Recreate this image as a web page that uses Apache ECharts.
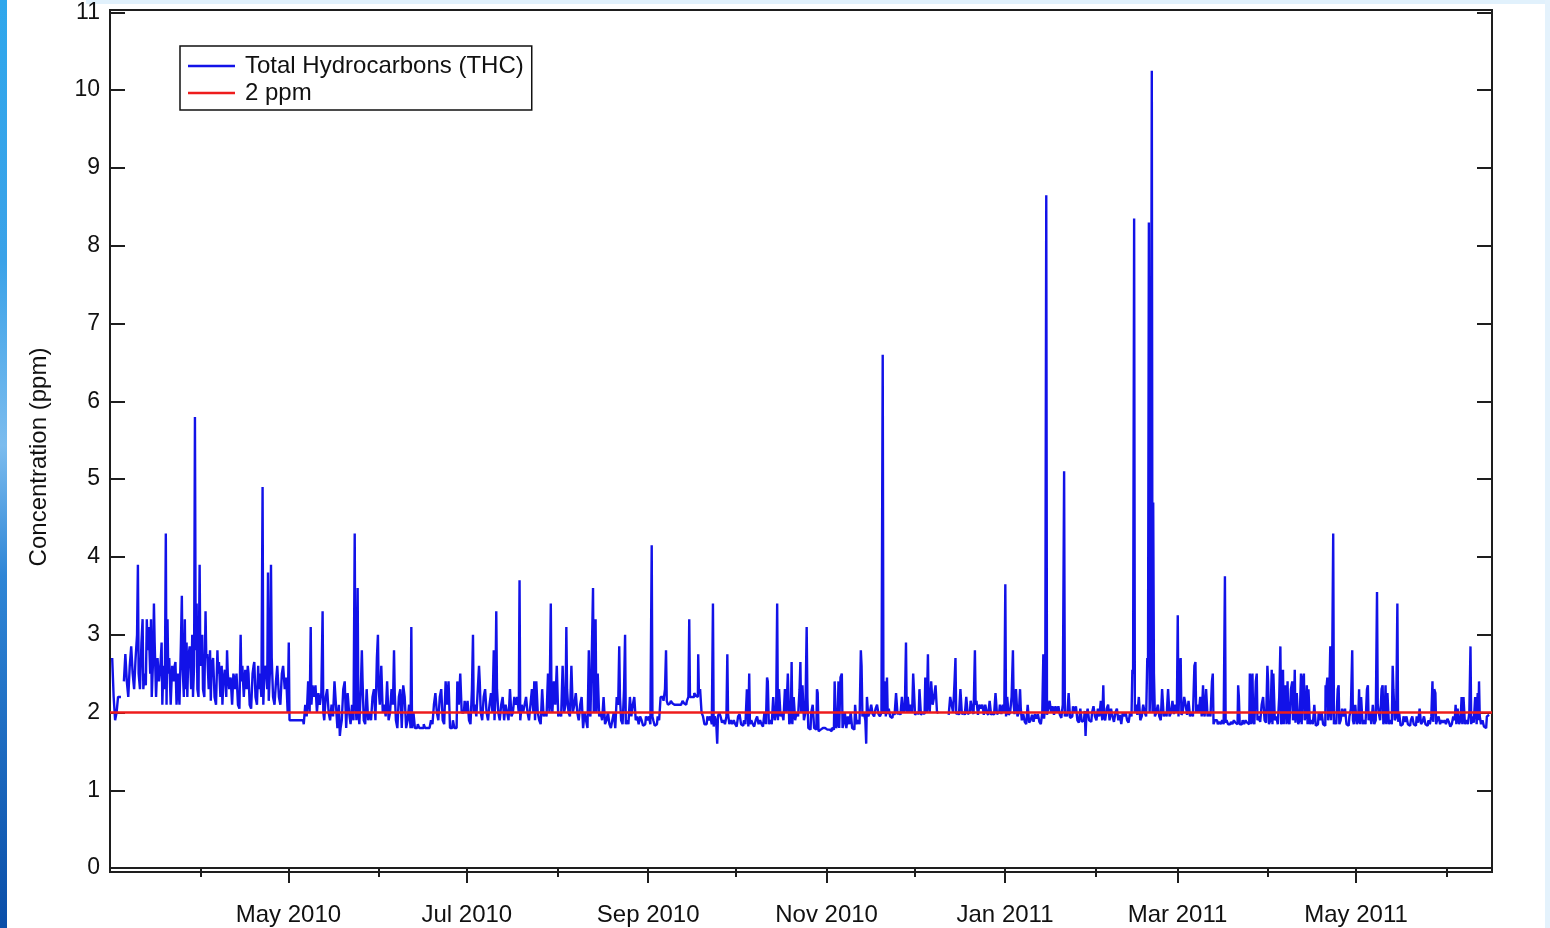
<!DOCTYPE html>
<html>
<head>
<meta charset="utf-8">
<title>Total Hydrocarbons (THC)</title>
<script src="https://cdn.jsdelivr.net/npm/echarts@6/dist/echarts.min.js"></script>
<style>
  html, body { margin: 0; padding: 0; background: #fff; }
  #chart { width: 1550px; height: 928px; }
</style>
</head>
<body>
<div id="chart"></div>
<script>
// readings (ppm): one value per day of the month at 00:00, null = no data
var mar2010 = [null, 2.7, 1.9, 2.2, null, 2.4, 2.4, 2.6, 2.5, 2.7, 2.5, 2.9, 2.5, 2.8, 2.5, 2.7, 2.2, 2.4, 2.1, 2.3, 2.5, 2.1, 2.4, 2.1, 2.1, 2.6, 2.3, 2.7, 2.3, 2.6, 2.3];
var apr2010 = [2.6, 2.3, 2.7, 2.3, 2.6, 2.2, 2.5, 2.2, 2.4, 2.2, 2.3, 2.1, 2.3, 2.1, 2.4, 2.2, 2.3, 2.1, 2.5, 2.2, 2.3, 2.2, 2.5, 2.3, 2.6, 2.2, 2.4, 2.2, 2.5, 2.3];
var may2010 = [2.0, 1.9, 1.9, 1.9, 1.9, 1.9, 2.1, 2.4, 2.1, 2.2, 2.0, 2.1, 2.0, 2.2, 2.0, 2.1, 2.4, 1.8, 1.8, 2.3, 1.8, 2.0, 2.1, 2.2, 2.0, 2.3, 1.9, 2.3, 2.0, 2.2, 1.9];
var jun2010 = [2.3, 2.6, 2.1, 2.4, 2.0, 2.1, 1.9, 2.2, 1.8, 2.2, 1.9, 1.8, 2.0, 1.8, 1.8, 1.8, 1.8, 1.8, 1.9, 2.1, 2.0, 2.2, 1.9, 2.4, 2.4, 1.8, 1.8, 2.4, 2.5, 2.0];
var jul2010 = [2.0, 1.9, 2.3, 2.1, 2.3, 2.0, 2.2, 2.0, 2.1, 2.0, 2.2, 2.0, 2.1, 1.9, 2.0, 2.3, 2.0, 2.1, 2.0, 2.1, 2.1, 2.0, 2.1, 2.0, 2.4, 1.9, 2.3, 2.0, 2.5, 2.1, 2.4];
var aug2010 = [2.6, 2.0, 2.6, 2.1, 2.0, 2.6, 2.1, 2.0, 2.1, 1.8, 1.9, 2.0, 2.8, 2.2, 2.5, 2.0, 2.2, 1.9, 1.85, 1.9, 1.8, 2.1, 1.9, 2.3, 1.9, 2.2, 2.1, 1.9, 1.85, 1.9, 1.85];
var sep2010 = [1.9, 1.85, 1.9, 1.85, 1.9, 2.2, 2.3, 2.1, 2.15, 2.1, 2.12, 2.1, 2.15, 2.1, 2.2, 2.2, 2.25, 2.2, 2.3, 1.95, 1.85, 1.9, 1.85, 1.95, 1.95, 1.95, 1.9, 1.95, 1.85, 1.85];
var oct2010 = [1.85, 1.95, 1.85, 1.9, 2.3, 1.85, 1.85, 1.9, 1.85, 1.85, 2.0, 2.4, 1.9, 2.2, 2.0, 2.3, 2.0, 2.3, 2.5, 1.9, 2.2, 2.0, 2.3, 2.35, 2.0, 1.8, 2.0, 1.8, 2.25, 1.78, 1.78];
var nov2010 = [1.78, 1.78, 1.8, 2.4, 1.85, 2.45, 1.85, 1.8, 1.85, 1.8, 2.1, 1.9, 2.6, 2.0, 2.2, 2.0, 1.98, 2.05, 1.98, 2.0, 2.4, 1.98, 1.95, 2.0, 2.25, 2.0, 2.2, 2.05, 2.2, 2.1];
var dec2010 = [2.5, 2.0, 2.3, 2.0, 2.45, 2.1, 2.4, 2.2, 2.0, null, null, null, 1.97, 2.1, 2.4, 2.0, 2.3, 2.0, 2.2, 2.0, 2.05, 2.1, 1.97, 2.05, 1.97, 2.0, 2.15, 2.0, 2.25, 2.0, 1.98];
var jan2011 = [2.0, 2.2, 2.0, 2.1, 2.3, 2.0, 1.9, 1.88, 2.1, 1.9, 1.88, 1.92, 1.88, 2.0, 2.1, 2.05, 2.0, 1.97, 2.0, 1.97, 2.1, 2.0, 2.25, 1.95, 2.0, 1.9, 2.05, 1.9, 1.95, 1.9, 2.0];
var feb2011 = [1.95, 2.05, 2.15, 1.95, 2.05, 1.9, 1.95, 2.0, 1.9, 1.85, 1.95, 1.9, 2.0, 2.5, 2.1, 2.2, 1.95, 2.0, 2.6, 2.3, 2.5, 2.0, 1.95, 2.3, 2.0, 2.3, 2.0, 1.98];
var mar2011 = [2.0, 2.6, 2.0, 2.1, 2.15, 2.0, 2.6, 2.1, 2.2, 2.0, 2.3, 2.0, 2.4, 1.9, 1.85, 1.85, 1.85, 1.9, 1.85, 1.85, 1.87, 2.2, 1.85, 1.85, 1.87, 2.4, 1.9, 2.4, 1.95, 2.1, 1.9];
var apr2011 = [2.4, 1.9, 2.5, 1.95, 2.2, 1.9, 2.35, 1.9, 2.3, 1.95, 2.25, 1.9, 2.4, 1.95, 2.3, 1.9, 2.1, 1.85, 1.9, 1.85, 2.3, 2.0, 2.1, 1.9, 2.3, 1.9, 1.95, 1.85, 1.95, 1.9];
var may2011 = [2.1, 1.9, 2.2, 1.9, 2.3, 2.0, 2.1, 1.9, 2.0, 2.3, 1.9, 2.25, 1.9, 2.3, 1.95, 2.0, 1.85, 1.88, 1.85, 1.9, 1.85, 1.95, 2.05, 1.88, 1.85, 1.9, 1.95, 2.3, 1.9, 1.85, 1.87];
var jun2011 = [1.85, 1.88, 1.85, 1.9, 2.05, 1.9, 2.2, 1.9, 2.0, 1.95, 2.2, 1.9, 1.85, 1.82, 1.95];

// readings at 12:00 of the same days
var mar2010Noon = [null, 2.2, 2.0, 2.2, null, 2.75, 2.2, 2.85, 2.3, 3.0, 2.3, 2.3, 2.35, 3.1, 2.2, 2.9, 2.7, 2.6, 2.6, 2.1, 2.7, 2.6, 2.65, 2.5, 2.9, 2.2, 2.2, 2.85, 2.2, 2.8, 2.2];
var apr2010Noon = [2.8, 2.2, 2.75, 2.15, 2.7, 2.1, 2.65, 2.1, 2.55, 2.5, 2.45, 2.45, 2.5, 2.05, 2.6, 2.55, 2.5, 2.05, 2.65, 2.1, 2.5, 2.1, 2.6, 2.15, 2.7, 2.1, 2.6, 2.1, 2.6, 2.45];
var may2010Noon = [1.9, 1.9, 1.9, 1.9, 1.9, 1.85, 1.95, 2.0, 2.35, 2.35, 2.25, 2.25, 1.9, 2.3, 1.9, 1.95, 2.1, 2.1, 1.9, 2.4, 2.25, 1.85, 1.9, 1.9, 1.85, 2.4, 1.85, 1.9, 1.9, 2.3, 2.7];
var jun2010Noon = [2.1, 2.0, 1.95, 1.9, 2.3, 2.25, 1.8, 2.3, 2.35, 1.8, 2.1, 1.8, 1.8, 1.85, 1.8, 1.85, 1.8, 1.8, 1.85, 2.25, 1.9, 2.3, 1.85, 2.1, 1.8, 1.9, 1.8, 2.1, 2.0, 2.15];
var jul2010Noon = [2.15, 1.85, 2.0, 1.95, 2.4, 1.9, 2.3, 1.9, 2.25, 1.9, 2.3, 1.9, 2.2, 2.1, 1.9, 1.95, 2.2, 2.2, 1.9, 2.0, 2.2, 1.9, 2.3, 1.9, 2.0, 1.85, 1.95, 1.95, 2.0, 2.0, 2.1];
var aug2010Noon = [1.95, 1.95, 2.0, 2.3, 1.95, 2.0, 2.25, 1.9, 2.2, 2.0, 1.8, 1.95, 2.0, 2.0, 1.95, 1.9, 1.85, 2.0, 1.8, 2.0, 2.2, 2.2, 1.85, 1.85, 1.85, 1.95, 2.2, 1.95, 1.95, 1.83, 1.95];
var sep2010Noon = [1.95, 1.95, 1.83, 1.95, 2.2, 2.15, 2.15, 2.12, 2.12, 2.1, 2.1, 2.12, 2.12, 2.15, 2.2, 2.2, 2.22, 2.25, 2.0, 1.85, 1.95, 1.95, 1.82, 1.88, 2.0, 1.87, 1.85, 1.98, 1.9, 1.9];
var oct2010Noon = [1.82, 1.98, 1.83, 1.85, 1.82, 1.9, 1.82, 1.95, 1.9, 1.82, 1.85, 1.85, 1.85, 1.9, 1.9, 1.95, 1.9, 2.0, 1.85, 1.85, 1.9, 1.95, 2.0, 1.9, 2.2, 1.78, 2.1, 1.78, 1.76, 1.8, 1.8];
var nov2010Noon = [1.8, 1.76, 1.78, 1.8, 1.8, 1.8, 2.0, 1.95, 2.0, 1.78, 1.85, 1.85, 1.95, 1.9, 1.95, 2.1, 1.95, 2.1, 1.95, 1.98, 1.95, 2.05, 1.93, 1.97, 1.98, 1.97, 2.0, 2.0, 2.0, 2.0];
var dec2010Noon = [1.97, 1.98, 1.97, 1.98, 2.0, 2.0, 2.1, 2.35, null, null, null, null, 2.2, 2.0, 1.98, 1.97, 1.98, 1.97, 1.98, 2.15, 1.98, 2.15, 2.1, 2.1, 2.1, 1.97, 1.97, 1.97, 1.98, 2.1, 2.1];
var jan2011Noon = [1.95, 1.97, 2.2, 1.98, 1.95, 2.05, 1.98, 1.85, 1.87, 1.97, 1.98, 1.98, 1.85, 1.92, 1.97, 2.15, 2.08, 2.08, 2.08, 1.93, 1.95, 1.95, 1.93, 2.08, 2.08, 1.87, 1.88, 2.02, 2.05, 1.88, 2.08];
var feb2011Noon = [1.9, 1.95, 1.9, 1.9, 2.1, 2.05, 1.88, 2.05, 1.97, 2.0, 2.0, 1.87, 1.95, 2.0, 1.97, 1.9, 2.1, 1.95, 2.0, 2.0, 1.95, 2.1, 1.9, 1.95, 1.95, 1.95, 2.15, 2.1];
var mar2011Noon = [1.95, 1.97, 2.2, 1.97, 1.95, 1.95, 2.0, 2.0, 1.95, 1.95, 1.95, 1.95, 1.85, 1.9, 1.88, 1.9, 1.87, 1.85, 1.88, 1.9, 1.85, 1.85, 1.9, 1.9, 1.85, 1.85, 1.85, 1.9, 1.88, 2.2, 1.87];
var apr2011Noon = [1.85, 1.85, 1.9, 1.85, 1.85, 1.85, 1.85, 1.85, 1.9, 1.87, 1.85, 1.85, 1.9, 1.85, 1.85, 1.85, 1.83, 2.0, 2.0, 1.83, 1.9, 1.9, 1.85, 1.85, 1.85, 2.05, 2.05, 1.83, 2.05, 1.85];
var may2011Noon = [1.85, 1.85, 1.85, 1.85, 1.9, 1.85, 1.85, 2.1, 1.9, 1.85, 1.85, 1.85, 1.85, 1.9, 1.88, 1.83, 1.95, 1.95, 1.83, 1.95, 1.83, 1.87, 1.85, 1.95, 1.83, 1.85, 1.88, 1.85, 1.95, 1.9, 1.9];
var jun2011Noon = [1.92, 1.82, 1.95, 1.85, 1.85, 1.85, 1.85, 1.85, 1.85, 1.87, 1.85, 1.95, 1.9, 1.8, 1.97];

// short excursions between the regular readings [time, ppm]
var spikes = [
  ['2010-03-10 14:00', 3.9], ['2010-03-12 07:00', 3.2], ['2010-03-13 16:00', 3.2], ['2010-03-15 01:00', 3.2],
  ['2010-03-16 01:00', 3.4], ['2010-03-18 19:00', 2.9], ['2010-03-20 04:00', 4.3], ['2010-03-20 20:00', 3.2],
  ['2010-03-23 06:00', 2.6], ['2010-03-25 15:00', 3.5], ['2010-03-26 16:00', 3.2], ['2010-03-27 09:00', 2.9],
  ['2010-03-29 06:00', 3.0], ['2010-03-30 02:00', 5.8], ['2010-03-30 18:00', 3.4], ['2010-03-31 19:00', 3.9],
  ['2010-04-01 14:00', 3.0], ['2010-04-02 20:00', 3.3], ['2010-04-04 10:00', 2.8], ['2010-04-06 23:00', 2.8],
  ['2010-04-08 09:00', 2.6], ['2010-04-10 01:00', 2.8], ['2010-04-12 09:00', 2.5], ['2010-04-14 20:00', 3.0],
  ['2010-04-17 05:00', 2.6], ['2010-04-19 04:00', 2.6], ['2010-04-20 20:00', 2.6], ['2010-04-22 08:00', 4.9],
  ['2010-04-24 01:00', 3.8], ['2010-04-25 02:00', 3.9], ['2010-04-27 09:00', 2.6], ['2010-04-29 09:00', 2.6],
  ['2010-05-01 06:00', 2.9], ['2010-05-08 18:00', 3.1], ['2010-05-12 21:00', 3.3], ['2010-05-18 16:00', 1.7],
  ['2010-05-23 20:00', 4.3], ['2010-05-24 20:00', 3.6], ['2010-05-26 05:00', 2.8], ['2010-05-31 17:00', 3.0],
  ['2010-06-06 05:00', 2.8], ['2010-06-12 01:00', 3.1], ['2010-07-03 05:00', 3.0], ['2010-07-05 08:00', 2.6],
  ['2010-07-10 10:00', 2.8], ['2010-07-11 03:00', 3.3], ['2010-07-19 01:00', 3.7], ['2010-07-24 03:00', 2.4],
  ['2010-07-29 22:00', 3.4], ['2010-08-04 01:00', 3.1], ['2010-08-11 22:00', 2.8], ['2010-08-13 07:00', 3.6],
  ['2010-08-14 01:00', 3.2], ['2010-08-22 05:00', 2.85], ['2010-08-24 05:00', 3.0], ['2010-09-02 10:00', 4.15],
  ['2010-09-07 05:00', 2.8], ['2010-09-15 02:00', 3.2], ['2010-09-18 05:00', 2.75], ['2010-09-23 07:00', 3.4],
  ['2010-09-24 17:00', 1.6], ['2010-09-28 03:00', 2.75], ['2010-10-05 14:00', 2.5], ['2010-10-11 19:00', 2.45],
  ['2010-10-15 05:00', 3.4], ['2010-10-20 02:00', 2.65], ['2010-10-23 02:00', 2.65], ['2010-10-25 09:00', 3.1],
  ['2010-10-28 22:00', 2.3], ['2010-11-05 03:00', 2.4], ['2010-11-06 10:00', 2.5], ['2010-11-12 22:00', 2.8],
  ['2010-11-14 14:00', 1.6], ['2010-11-20 09:00', 6.6], ['2010-11-21 19:00', 2.45], ['2010-11-28 07:00', 2.9],
  ['2010-11-30 17:00', 2.5], ['2010-12-05 19:00', 2.75], ['2010-12-15 03:00', 2.7], ['2010-12-21 22:00', 2.8],
  ['2011-01-01 05:00', 3.65], ['2011-01-03 22:00', 2.8], ['2011-01-06 07:00', 2.3], ['2011-01-14 05:00', 2.75],
  ['2011-01-15 05:00', 8.65], ['2011-01-21 10:00', 5.1], ['2011-01-28 14:00', 1.7], ['2011-02-03 17:00', 2.35],
  ['2011-02-13 14:00', 2.55], ['2011-02-14 07:00', 8.35], ['2011-02-18 19:00', 2.7], ['2011-02-19 09:00', 8.3],
  ['2011-02-20 09:00', 10.25], ['2011-02-20 20:00', 4.7], ['2011-02-23 22:00', 2.3], ['2011-03-01 03:00', 3.25],
  ['2011-03-02 03:00', 2.7], ['2011-03-07 05:00', 2.65], ['2011-03-09 22:00', 2.35], ['2011-03-13 02:00', 2.5],
  ['2011-03-17 09:00', 3.75], ['2011-03-21 22:00', 2.35], ['2011-03-25 22:00', 2.5], ['2011-03-26 17:00', 2.5],
  ['2011-03-28 03:00', 2.5], ['2011-03-31 22:00', 2.6], ['2011-04-02 09:00', 2.55], ['2011-04-05 07:00', 2.85],
  ['2011-04-06 02:00', 2.55], ['2011-04-07 17:00', 2.4], ['2011-04-09 10:00', 2.4], ['2011-04-10 03:00', 2.55],
  ['2011-04-12 09:00', 2.5], ['2011-04-13 09:00', 2.5], ['2011-04-14 09:00', 2.35], ['2011-04-20 17:00', 2.35],
  ['2011-04-21 10:00', 2.45], ['2011-04-22 10:00', 2.85], ['2011-04-23 10:00', 4.3], ['2011-04-25 03:00', 2.35],
  ['2011-04-29 22:00', 2.8], ['2011-05-02 03:00', 2.3], ['2011-05-05 03:00', 2.35], ['2011-05-08 09:00', 3.55],
  ['2011-05-10 05:00', 2.35], ['2011-05-11 05:00', 2.35], ['2011-05-13 14:00', 2.6], ['2011-05-15 07:00', 3.4],
  ['2011-05-27 07:00', 2.4], ['2011-05-28 07:00', 2.25], ['2011-06-04 03:00', 2.1], ['2011-06-06 05:00', 2.2],
  ['2011-06-09 07:00', 2.85], ['2011-06-11 17:00', 2.25], ['2011-06-12 03:00', 2.4]
];

var monthData = [
  [2010, 3, mar2010, mar2010Noon], [2010, 4, apr2010, apr2010Noon], [2010, 5, may2010, may2010Noon],
  [2010, 6, jun2010, jun2010Noon], [2010, 7, jul2010, jul2010Noon], [2010, 8, aug2010, aug2010Noon],
  [2010, 9, sep2010, sep2010Noon], [2010, 10, oct2010, oct2010Noon], [2010, 11, nov2010, nov2010Noon],
  [2010, 12, dec2010, dec2010Noon], [2011, 1, jan2011, jan2011Noon], [2011, 2, feb2011, feb2011Noon],
  [2011, 3, mar2011, mar2011Noon], [2011, 4, apr2011, apr2011Noon], [2011, 5, may2011, may2011Noon],
  [2011, 6, jun2011, jun2011Noon]
];

var limitPpm = 2;
var xMin = '2010-03-01 00:00';
var xMax = '2011-06-16 12:00';
var majorTicks = ['2010-05-01', '2010-07-01', '2010-09-01', '2010-11-01', '2011-01-01', '2011-03-01', '2011-05-01'];
var minorTicks = ['2010-04-01', '2010-06-01', '2010-08-01', '2010-10-01', '2010-12-01', '2011-02-01', '2011-04-01', '2011-06-01'];
var yTicks = [0, 1, 2, 3, 4, 5, 6, 7, 8, 9, 10, 11];
var monthNames = ['Jan', 'Feb', 'Mar', 'Apr', 'May', 'Jun', 'Jul', 'Aug', 'Sep', 'Oct', 'Nov', 'Dec'];

function toTime(s) {
  var parts = s.split(' ');
  var d = parts[0].split('-').map(Number);
  var h = parts[1] ? parseInt(parts[1], 10) : 0;
  return new Date(d[0], d[1] - 1, d[2], h).getTime();
}

var thc = [];
monthData.forEach(function (m) {
  m[2].forEach(function (v, i) {
    thc.push([new Date(m[0], m[1] - 1, i + 1, 0).getTime(), v]);
    thc.push([new Date(m[0], m[1] - 1, i + 1, 12).getTime(), m[3][i]]);
  });
});
spikes.forEach(function (s) {
  thc.push([toTime(s[0]), s[1]]);
});
thc.sort(function (a, b) { return a[0] - b[0]; });

var font = "'Liberation Sans', Arial, sans-serif";
var axisColor = '#1e1e1e';

var chart = echarts.init(document.getElementById('chart'));

// x is kept in ms on a value axis so ticks can sit exactly on month starts
var option = {
  animation: false,
  backgroundColor: '#fff',
  textStyle: { fontFamily: font },
  graphic: [
    {
      type: 'rect', silent: true, z: -10,
      shape: { x: 0, y: 0, width: 7, height: 928 },
      style: {
        fill: new echarts.graphic.LinearGradient(0, 0, 0, 1, [
          { offset: 0, color: '#2fa7ec' },
          { offset: 0.28, color: '#3aa2e8' },
          { offset: 0.48, color: '#7cbcee' },
          { offset: 0.62, color: '#2f86d6' },
          { offset: 1, color: '#0a4ea8' }
        ])
      }
    },
    { type: 'rect', silent: true, z: -10, shape: { x: 86, y: 0, width: 1464, height: 4 }, style: { fill: '#e1f1fc' } },
    { type: 'rect', silent: true, z: -10, shape: { x: 1545, y: 0, width: 5, height: 928 }, style: { fill: '#e4f2fc' } }
  ],
  grid: {
    left: 110, right: 58, top: 10, bottom: 56,
    containLabel: false,
    outerBoundsMode: 'none',
    show: true,
    backgroundColor: '#fff',
    borderColor: axisColor,
    borderWidth: 2
  },
  legend: {
    data: ['Total Hydrocarbons (THC)', '2 ppm'],
    orient: 'vertical',
    left: 180,
    top: 46,
    padding: [8, 8, 5, 8],
    itemGap: 3,
    itemWidth: 47,
    itemHeight: 2.5,
    icon: 'rect',
    backgroundColor: '#fff',
    borderColor: '#111',
    borderWidth: 1.5,
    borderRadius: 0,
    textStyle: { fontSize: 24, color: '#111', fontFamily: font, padding: [0, 0, 0, 5] }
  },
  xAxis: [
    {
      type: 'value',
      position: 'bottom',
      min: toTime(xMin),
      max: toTime(xMax),
      axisLine: { show: true, lineStyle: { color: axisColor, width: 2 } },
      axisTick: { show: true, length: 15, lineStyle: { color: axisColor, width: 2 }, customValues: majorTicks.map(toTime) },
      axisLabel: {
        customValues: majorTicks.map(toTime),
        fontSize: 24,
        color: '#111',
        fontFamily: font,
        margin: 31,
        formatter: function (v) {
          var d = new Date(v);
          return monthNames[d.getMonth()] + ' ' + d.getFullYear();
        }
      },
      splitLine: { show: false }
    },
    {
      type: 'value',
      position: 'bottom',
      min: toTime(xMin),
      max: toTime(xMax),
      axisLine: { show: false },
      axisTick: { show: true, length: 9, lineStyle: { color: axisColor, width: 2 }, customValues: minorTicks.map(toTime) },
      axisLabel: { show: false },
      splitLine: { show: false }
    }
  ],
  yAxis: [
    {
      type: 'value',
      position: 'left',
      min: -0.05,
      max: 11.03,
      name: 'Concentration (ppm)',
      nameLocation: 'middle',
      nameGap: 59,
      nameTextStyle: { fontSize: 24, color: '#111', fontFamily: font, padding: [0, 32, 0, 0] },
      axisLine: { show: true, lineStyle: { color: axisColor, width: 2 } },
      axisTick: { show: true, inside: true, length: 15, lineStyle: { color: axisColor, width: 2 }, customValues: yTicks },
      axisLabel: { customValues: yTicks, fontSize: 23, color: '#111', fontFamily: font, margin: 10 },
      splitLine: { show: false }
    },
    {
      type: 'value',
      position: 'right',
      min: -0.05,
      max: 11.03,
      axisLine: { show: true, lineStyle: { color: axisColor, width: 2 } },
      axisTick: { show: true, inside: true, length: 15, lineStyle: { color: axisColor, width: 2 }, customValues: yTicks },
      axisLabel: { show: false },
      splitLine: { show: false }
    }
  ],
  series: [
    {
      name: 'Total Hydrocarbons (THC)',
      type: 'line',
      xAxisIndex: 0,
      yAxisIndex: 0,
      data: thc,
      step: 'middle',
      symbol: 'none',
      showSymbol: false,
      connectNulls: false,
      color: '#1212e8',
      lineStyle: { color: '#1212e8', width: 2.4 }
    },
    {
      name: '2 ppm',
      type: 'line',
      xAxisIndex: 0,
      yAxisIndex: 0,
      data: [[toTime(xMin), limitPpm], [toTime(xMax), limitPpm]],
      symbol: 'none',
      showSymbol: false,
      color: '#ee1c1c',
      lineStyle: { color: '#ee1c1c', width: 2.5 }
    }
  ]
};

chart.setOption(option);
</script>
</body>
</html>
